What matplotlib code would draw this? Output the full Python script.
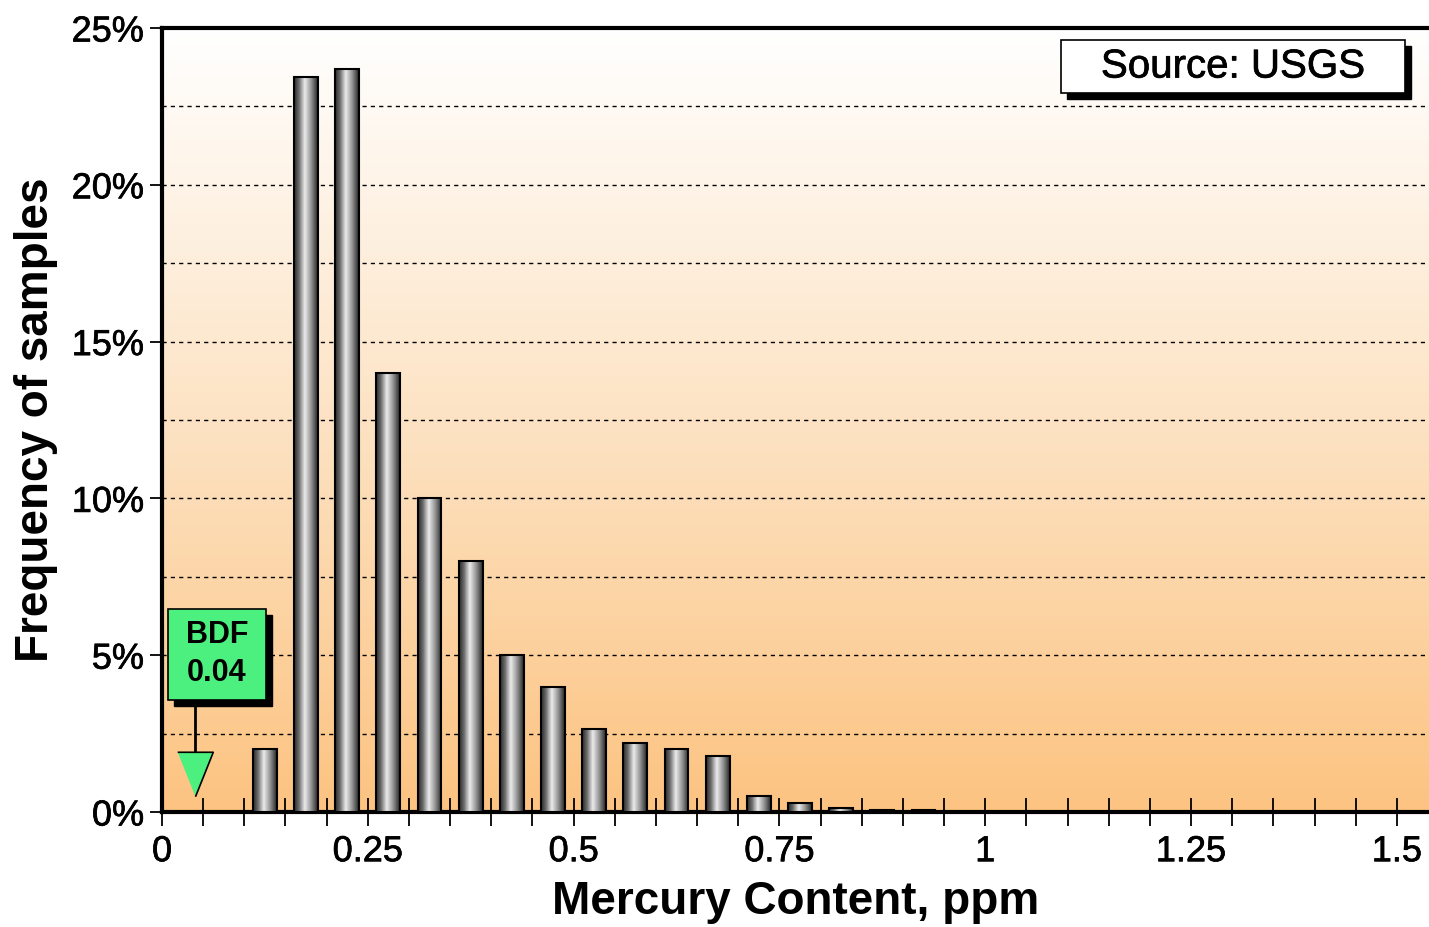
import matplotlib.pyplot as plt
import numpy as np
from matplotlib import patheffects
from matplotlib.colors import LinearSegmentedColormap
from matplotlib.patches import Rectangle
from matplotlib.ticker import FuncFormatter

plt.rcParams['font.family'] = ['Liberation Sans', 'DejaVu Sans']

# bin centres (ppm) and share of samples (%)
bin_centers = [0.125, 0.175, 0.225, 0.275, 0.325, 0.375, 0.425, 0.475, 0.525,
               0.575, 0.625, 0.675, 0.725, 0.775, 0.825, 0.875, 0.925]
frequency = [2.0, 23.45, 23.7, 14.0, 10.0, 8.0, 5.0, 4.0, 2.65,
             2.2, 2.0, 1.8, 0.5, 0.28, 0.13, 0.07, 0.07]
bdf_value = 0.04
x_ticks = [0, 0.25, 0.5, 0.75, 1, 1.25, 1.5]
x_tick_labels = ['0', '0.25', '0.5', '0.75', '1', '1.25', '1.5']

bar_width = 0.029
heavy = [patheffects.withStroke(linewidth=0.5, foreground='black')]

fig = plt.figure(figsize=(14.29, 9.27), dpi=100)
ax = fig.add_axes([162 / 1429, 1 - 812 / 927, 1 - 162 / 1429, (812 - 28) / 927])

# orange gradient background
bg_cmap = LinearSegmentedColormap.from_list('bg', ['#fcc381', '#fde3c4', '#ffffff'])
grad = np.linspace(0, 1, 256).reshape(-1, 1)
ax.imshow(grad, cmap=bg_cmap, origin='lower', extent=(0, 1, 0, 1),
          transform=ax.transAxes, aspect='auto', zorder=0)

# cylinder shaded bars
bar_cmap = LinearSegmentedColormap.from_list(
    'bar', [(0, '#2a2a2a'), (0.2, '#6a6a6a'), (0.45, '#ececec'), (0.75, '#8a8a8a'), (1, '#262626')])
hgrad = np.linspace(0, 1, 64).reshape(1, -1)
for x, h in zip(bin_centers, frequency):
    ax.imshow(hgrad, cmap=bar_cmap, extent=(x - bar_width / 2, x + bar_width / 2, 0, h),
              aspect='auto', zorder=3, interpolation='bilinear')
ax.bar(bin_centers, frequency, width=bar_width, facecolor='none', edgecolor='black',
       linewidth=1.5, zorder=4)

ax.set_xlim(0, 1.539)
ax.set_ylim(0, 25)

# grid every 2.5 %
ax.set_yticks(np.arange(0, 26, 5))
ax.set_yticks(np.arange(2.5, 25, 5), minor=True)
ax.yaxis.set_major_formatter(FuncFormatter(lambda v, p: f'{v:.0f}%'))
ax.grid(axis='y', which='both', color='black', linestyle=(0, (3, 3)), linewidth=1, zorder=1)
ax.set_axisbelow(True)

ax.set_xticks(np.arange(0, 1.55, 0.05), minor=True)
ax.set_xticks(x_ticks)
ax.set_xticklabels(x_tick_labels)
ax.tick_params(axis='x', which='both', direction='inout', length=20, width=1.3, pad=6,
               labelsize=26)
ax.tick_params(axis='y', which='major', direction='out', length=9, width=1.3, pad=4,
               labelsize=26)
ax.tick_params(axis='y', which='minor', length=0)
for lab in ax.get_xticklabels() + ax.get_yticklabels():
    lab.set_path_effects(heavy)

for side in ['top', 'left', 'bottom']:
    ax.spines[side].set_linewidth(3)
ax.spines['right'].set_visible(False)

ax.set_xlabel('Mercury Content, ppm', fontsize=33, fontweight='bold', labelpad=8)
ax.set_ylabel('Frequency of samples', fontsize=33, fontweight='bold', labelpad=10)

# Source box with shadow
sx0, sy0, sw, sh = 0.7095, 0.917, 0.2715, 0.0677
ax.add_patch(Rectangle((sx0 + 0.005, sy0 - 0.008), sw, sh, transform=ax.transAxes,
                       facecolor='black', edgecolor='black', zorder=6, clip_on=False))
ax.add_patch(Rectangle((sx0, sy0), sw, sh, transform=ax.transAxes,
                       facecolor='white', edgecolor='black', linewidth=1.2, zorder=7, clip_on=False))
ax.text(sx0 + sw / 2, sy0 + sh / 2, 'Source: USGS', transform=ax.transAxes, fontsize=29,
        ha='center', va='center', zorder=8, path_effects=heavy)

# BDF marker box
bx0, by0, bw, bh = 0.0047, 0.143, 0.0775, 0.116
ax.add_patch(Rectangle((bx0 + 0.005, by0 - 0.008), bw, bh, transform=ax.transAxes,
                       facecolor='black', edgecolor='black', zorder=6))
ax.add_patch(Rectangle((bx0, by0), bw, bh, transform=ax.transAxes,
                       facecolor='#4cf07e', edgecolor='black', linewidth=1.2, zorder=7))
ax.text(bx0 + bw / 2, by0 + bh / 2, 'BDF\n0.04', transform=ax.transAxes, fontsize=22,
        fontweight='bold', ha='center', va='center', linespacing=1.35, zorder=8)
ax.plot([bdf_value, bdf_value], [1.9, by0 * 25], color='black', linewidth=2, zorder=5)
ax.plot([bdf_value], [1.2], marker=[(-0.8, 1), (0.8, 1), (0, -1)], markersize=32,
        markerfacecolor='#4cf07e', markeredgecolor='black', markeredgewidth=1.2,
        linestyle='none', zorder=6)

fig.savefig('out.png', dpi=100)
